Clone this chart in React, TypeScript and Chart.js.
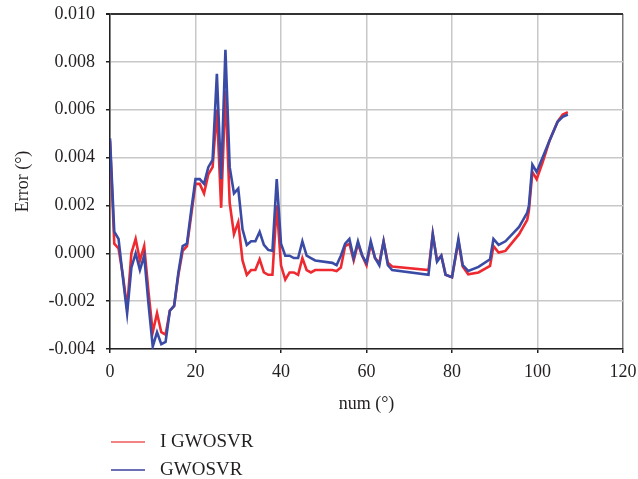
import React, { useEffect, useRef } from "react";
import { Chart, registerables } from "chart.js";

Chart.register(...registerables);

const numX = [
  0, 1, 2, 3, 4, 5, 6, 7, 8, 9, 10, 11, 12, 13, 14, 15, 16, 17, 18, 19,
  20, 21, 22, 23, 24, 25, 26, 27, 28, 29, 30, 31, 32, 33, 34, 35, 36, 37, 38, 39,
  40, 41, 42, 43, 44, 45, 46, 47, 48, 52, 53, 54, 55, 56, 57, 58, 59, 60, 61, 62,
  63, 64, 65, 66, 74.5, 75.5, 76.5, 77.5, 78.5, 80, 81.5, 82.5, 83.8, 86.2, 88.9, 89.7,
  90.9, 92.5, 95.7, 97.6, 98, 98.8, 99.8, 101.2, 102.8, 104.7, 105.9, 107.1,
];

const igwosvr = [
  0.0047, 0.0004, 0.0002, -0.0009, -0.0023, 0.0, 0.0006, -0.0003, 0.0003, -0.0016,
  -0.0033, -0.0025, -0.0033, -0.0034, -0.0024, -0.0022, -0.0009, 0.0001, 0.0003, 0.0016,
  0.0029, 0.0029, 0.0025, 0.0033, 0.0036, 0.006, 0.0019, 0.0068, 0.0021, 0.0008,
  0.0013, -0.0003, -0.0009, -0.0007, -0.0007, -0.00025, -0.0008, -0.0009, -0.0009, 0.002,
  -0.0005, -0.0011, -0.0008, -0.0008, -0.0009, -0.0002, -0.0007, -0.0008, -0.0007, -0.0007,
  -0.00074, -0.0006, 0.0003, 0.0004, -0.0003, 0.0004, -0.0001, -0.0005, 0.0004, -0.0002,
  -0.0004, 0.0005, -0.0004, -0.00055, -0.0007, 0.0008, -0.0003, -0.0001, -0.0009, -0.001,
  0.0005, -0.00055, -0.00088, -0.0008, -0.00053, 0.0003, 0.00003, 0.0001, 0.0008, 0.0014,
  0.0018, 0.0034, 0.0031, 0.0038, 0.0047, 0.0055, 0.0058, 0.0059,
];

const gwosvr = [
  0.0048, 0.0009, 0.0006, -0.001, -0.0025, -0.0006, 0.0, -0.0007, -0.0001, -0.0021,
  -0.0039, -0.0033, -0.0038, -0.0037, -0.0024, -0.0022, -0.0008, 0.0003, 0.0004, 0.0018,
  0.0031, 0.0031, 0.0029, 0.0036, 0.0039, 0.0075, 0.0031, 0.0085, 0.0036, 0.0025,
  0.0027, 0.001, 0.00035, 0.0005, 0.0005, 0.0009, 0.00035, 0.00014, 0.0001, 0.0031,
  0.0004, -0.0001, -0.0001, -0.0002, -0.0002, 0.0005, -0.0001, -0.0002, -0.0003, -0.0004,
  -0.0005, -0.0001, 0.0004, 0.0006, -0.0002, 0.0005, -0.0001, -0.0004, 0.0005, -0.0002,
  -0.0005, 0.0005, -0.0005, -0.0007, -0.0009, 0.0008, -0.00035, -0.0001, -0.0009, -0.001,
  0.0006, -0.0005, -0.00074, -0.00057, -0.00025, 0.0006, 0.00035, 0.0005, 0.0011, 0.0017,
  0.002, 0.0037, 0.0034, 0.004, 0.0047, 0.0055, 0.0057, 0.0058,
];

const seriesNames = ["I GWOSVR", "GWOSVR"];
const yTicks = [0.01, 0.008, 0.006, 0.004, 0.002, 0, -0.002, -0.004];

const FONT = "'Liberation Serif', 'Times New Roman', serif";
const TEXT = "#231f20";

export default function App() {
  const ref = useRef<HTMLCanvasElement | null>(null);

  useEffect(() => {
    document.body.style.margin = "0";
    const canvas = ref.current;
    if (!canvas) return;

    const legendPlugin = {
      id: "customLegend",
      afterDraw(chart: any) {
        const ctx = chart.ctx;
        const items = [
          { label: seriesNames[0], color: "#ef5a5a", y: 442 },
          { label: seriesNames[1], color: "#3b3f9c", y: 470 },
        ];
        ctx.save();
        items.forEach((it) => {
          ctx.strokeStyle = it.color;
          ctx.lineWidth = 1.5;
          ctx.beginPath();
          ctx.moveTo(111, it.y);
          ctx.lineTo(145, it.y);
          ctx.stroke();
          ctx.fillStyle = TEXT;
          ctx.font = `19px ${FONT}`;
          ctx.textBaseline = "middle";
          ctx.textAlign = "left";
          ctx.fillText(it.label, 160, it.y);
        });
        ctx.restore();
      },
    };

    const chart = new Chart(canvas, {
      type: "line",
      data: {
        datasets: [
          {
            label: seriesNames[0],
            data: numX.map((x, i) => ({ x, y: igwosvr[i] })),
            borderColor: "#ee2a30",
            borderWidth: 2.6,
            pointRadius: 0,
            tension: 0,
            fill: false,
            order: 1,
          },
          {
            label: seriesNames[1],
            data: numX.map((x, i) => ({ x, y: gwosvr[i] })),
            borderColor: "#3a4ba6",
            borderWidth: 2.6,
            pointRadius: 0,
            tension: 0,
            fill: false,
            order: 0,
          },
        ],
      },
      options: {
        responsive: false,
        animation: false,
        layout: { padding: { left: 0, top: 14, right: 15, bottom: 50 } },
        plugins: {
          legend: { display: false },
          tooltip: { enabled: false },
        },
        scales: {
          x: {
            type: "linear",
            min: 0,
            max: 120,
            afterFit: (scale: any) => {
              scale.height = 80;
              scale.paddingLeft = 0;
              scale.paddingRight = 0;
            },
            ticks: {
              stepSize: 20,
              color: TEXT,
              font: { family: FONT, size: 18 },
              padding: 8,
              maxRotation: 0,
            },
            grid: {
              color: (c: any) => (c.tick && c.tick.value === 120 ? "#777777" : "#c8c8c8"),
              lineWidth: 1.5,
              tickLength: 4,
              tickColor: "#222222",
            },
            border: { color: "#222222", width: 1.5 },
            title: {
              display: true,
              text: "num (°)",
              color: TEXT,
              font: { family: FONT, size: 18 },
              padding: { top: 0, bottom: 14 },
            },
          },
          y: {
            min: -0.004,
            max: 0.01,
            afterFit: (scale: any) => {
              scale.width = 110;
              scale.paddingTop = 0;
              scale.paddingBottom = 0;
            },
            afterBuildTicks: (scale: any) => {
              scale.ticks = yTicks.map((v) => ({ value: v }));
            },
            ticks: {
              color: TEXT,
              font: { family: FONT, size: 18 },
              padding: 11,
              callback: (v: any) => Number(v).toFixed(3),
            },
            grid: {
              color: (c: any) => (c.tick && c.tick.value === 0.01 ? "#333333" : "#c8c8c8"),
              lineWidth: (c: any) => (c.tick && c.tick.value === 0.01 ? 2 : 1.5),
              tickLength: 4,
              tickColor: "#222222",
            },
            border: { color: "#222222", width: 1.5 },
            title: {
              display: true,
              text: "Error (°)",
              color: TEXT,
              font: { family: FONT, size: 18 },
              padding: { top: 12, bottom: 0 },
            },
          },
        },
      },
      plugins: [legendPlugin],
    });

    return () => chart.destroy();
  }, []);

  return (
    <div style={{ width: 638, height: 479, background: "#fff" }}>
      <canvas ref={ref} width={638} height={479} style={{ display: "block", width: 638, height: 479 }} />
    </div>
  );
}
